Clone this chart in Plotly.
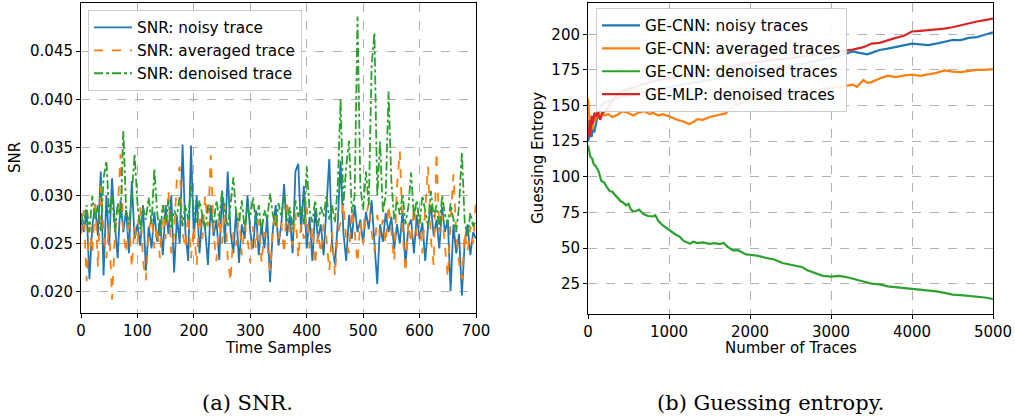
import plotly.graph_objects as go

W, H = 1015, 418

# ---------------- (a) SNR data ----------------
snr_x = list(range(0, 701, 5))

snr_noisy = [
    0.0275, 0.0262, 0.0285, 0.0213, 0.0268, 0.0290, 0.0258, 0.0325, 0.0217, 0.0300,
    0.0248, 0.0318, 0.0270, 0.0235, 0.0295, 0.0262, 0.0285, 0.0240, 0.0315, 0.0255,
    0.0270, 0.0248, 0.0290, 0.0222, 0.0268, 0.0245, 0.0283, 0.0252, 0.0275, 0.0238,
    0.0290, 0.0260, 0.0300, 0.0220, 0.0278, 0.0250, 0.0353, 0.0262, 0.0232, 0.0352,
    0.0255, 0.0300, 0.0240, 0.0280, 0.0265, 0.0228, 0.0290, 0.0258, 0.0275, 0.0233,
    0.0305, 0.0250, 0.0325, 0.0262, 0.0240, 0.0285, 0.0230, 0.0270, 0.0255, 0.0300,
    0.0262, 0.0245, 0.0285, 0.0238, 0.0270, 0.0245, 0.0278, 0.0210, 0.0265, 0.0290,
    0.0248, 0.0270, 0.0312, 0.0258, 0.0280, 0.0240, 0.0325, 0.0333, 0.0262, 0.0310,
    0.0245, 0.0278, 0.0232, 0.0285, 0.0255, 0.0270, 0.0238, 0.0295, 0.0338, 0.0250,
    0.0228, 0.0272, 0.0336, 0.0262, 0.0232, 0.0280, 0.0255, 0.0290, 0.0262, 0.0275,
    0.0250, 0.0283, 0.0265, 0.0295, 0.0248, 0.0208, 0.0270, 0.0252, 0.0282, 0.0262,
    0.0278, 0.0244, 0.0270, 0.0250, 0.0285, 0.0226, 0.0268, 0.0275, 0.0240, 0.0280,
    0.0255, 0.0272, 0.0232, 0.0268, 0.0290, 0.0258, 0.0275, 0.0245, 0.0288, 0.0262,
    0.0275, 0.0201, 0.0270, 0.0240, 0.0260, 0.0196, 0.0252, 0.0270, 0.0238, 0.0262,
    0.0255,
]

snr_averaged = [
    0.0260, 0.0285, 0.0211, 0.0268, 0.0240, 0.0295, 0.0225, 0.0310, 0.0262, 0.0235,
    0.0270, 0.0192, 0.0258, 0.0285, 0.0343, 0.0262, 0.0240, 0.0278, 0.0225, 0.0268,
    0.0250, 0.0288, 0.0232, 0.0212, 0.0262, 0.0278, 0.0245, 0.0268, 0.0235, 0.0290,
    0.0255, 0.0305, 0.0240, 0.0260, 0.0318, 0.0330, 0.0262, 0.0245, 0.0280, 0.0235,
    0.0268, 0.0228, 0.0280, 0.0255, 0.0300, 0.0268, 0.0342, 0.0260, 0.0232, 0.0278,
    0.0250, 0.0292, 0.0235, 0.0211, 0.0262, 0.0248, 0.0282, 0.0238, 0.0270, 0.0255,
    0.0230, 0.0268, 0.0245, 0.0275, 0.0230, 0.0262, 0.0250, 0.0222, 0.0268, 0.0282,
    0.0255, 0.0272, 0.0240, 0.0295, 0.0262, 0.0248, 0.0282, 0.0235, 0.0270, 0.0255,
    0.0288, 0.0245, 0.0268, 0.0228, 0.0262, 0.0240, 0.0270, 0.0255, 0.0222, 0.0262,
    0.0217, 0.0260, 0.0272, 0.0292, 0.0255, 0.0240, 0.0285, 0.0262, 0.0230, 0.0272,
    0.0250, 0.0278, 0.0292, 0.0262, 0.0242, 0.0280, 0.0258, 0.0275, 0.0250, 0.0290,
    0.0262, 0.0232, 0.0310, 0.0346, 0.0262, 0.0220, 0.0272, 0.0250, 0.0288, 0.0258,
    0.0275, 0.0240, 0.0285, 0.0330, 0.0255, 0.0228, 0.0345, 0.0262, 0.0280, 0.0248,
    0.0215, 0.0275, 0.0322, 0.0260, 0.0230, 0.0213, 0.0262, 0.0242, 0.0268, 0.0250,
    0.0296,
]

snr_denoised = [
    0.0282, 0.0270, 0.0290, 0.0262, 0.0300, 0.0275, 0.0290, 0.0262, 0.0318, 0.0336,
    0.0280, 0.0300, 0.0262, 0.0292, 0.0275, 0.0367, 0.0285, 0.0270, 0.0300, 0.0343,
    0.0292, 0.0265, 0.0288, 0.0275, 0.0298, 0.0270, 0.0328, 0.0282, 0.0258, 0.0290,
    0.0272, 0.0295, 0.0265, 0.0285, 0.0278, 0.0300, 0.0268, 0.0290, 0.0275, 0.0310,
    0.0285, 0.0272, 0.0295, 0.0278, 0.0265, 0.0290, 0.0282, 0.0270, 0.0295, 0.0275,
    0.0305, 0.0282, 0.0268, 0.0290, 0.0319, 0.0280, 0.0272, 0.0295, 0.0265, 0.0288,
    0.0278, 0.0298, 0.0270, 0.0290, 0.0262, 0.0285, 0.0275, 0.0302, 0.0280, 0.0268,
    0.0292, 0.0278, 0.0300, 0.0272, 0.0288, 0.0265, 0.0295, 0.0278, 0.0290, 0.0270,
    0.0330, 0.0285, 0.0272, 0.0295, 0.0268, 0.0288, 0.0278, 0.0300, 0.0275, 0.0290,
    0.0272, 0.0310, 0.0400, 0.0290, 0.0330, 0.0357, 0.0282, 0.0300, 0.0486, 0.0310,
    0.0285, 0.0325, 0.0290, 0.0435, 0.0469, 0.0300, 0.0356, 0.0282, 0.0300, 0.0408,
    0.0315, 0.0275, 0.0295, 0.0280, 0.0302, 0.0270, 0.0288, 0.0324, 0.0278, 0.0295,
    0.0270, 0.0300, 0.0282, 0.0268, 0.0305, 0.0278, 0.0290, 0.0265, 0.0300, 0.0280,
    0.0270, 0.0292, 0.0275, 0.0262, 0.0290, 0.0345, 0.0272, 0.0258, 0.0282, 0.0268,
    0.0275,
]

snr_names = ["SNR: noisy trace", "SNR: averaged trace", "SNR: denoised trace"]
snr_yticks = [0.020, 0.025, 0.030, 0.035, 0.040, 0.045]
snr_xticks = [0, 100, 200, 300, 400, 500, 600, 700]

# ---------------- (b) Guessing entropy data ----------------
ge_noisy_x = [0, 15, 30, 45, 60, 80, 100, 120, 150, 200, 300, 400, 600, 800, 1000,
              1300, 1600, 2000, 2400, 2800, 3100, 3270, 3350, 3450, 3500, 3600,
              3700, 3800, 3900, 4000, 4100, 4200, 4300, 4400, 4500, 4600, 4700,
              4800, 4900, 5000]
ge_noisy_y = [125, 129, 131, 128, 133, 132, 138, 143, 149, 152, 154, 156, 158, 161, 163,
              166, 169, 173, 177, 181, 185, 188, 187, 186, 187, 189,
              190, 191, 192, 193.5, 193, 192.5, 193.5, 195, 196, 196, 197.5,
              198, 199.5, 201.5]

ge_avg_x = [0, 10, 20, 30, 40, 55, 70, 90, 110, 140, 170, 200, 250, 300, 367, 420,
            500, 560, 620, 700, 760, 800, 870, 920, 1000, 1050, 1100, 1170, 1250,
            1300, 1350, 1420, 1500, 1580, 1650, 1700, 1750, 1800, 2000, 2400, 2800,
            3100, 3270, 3320, 3400, 3450, 3500, 3550, 3600, 3700, 3800, 3900, 4000,
            4100, 4200, 4300, 4400, 4500, 4600, 4700, 4800, 4900, 5000]
ge_avg_y = [155, 148, 135, 130, 138, 133, 142, 139, 144, 141, 145, 143, 144, 142, 143.6, 146,
            144.8, 143, 145, 146, 144, 145, 143, 144, 142.5, 141, 140, 139, 137,
            138.5, 140.5, 140, 142, 143, 144, 144.5, 147.6, 150, 154, 158, 161,
            163, 164.7, 163.2, 168, 166, 166.5, 168, 169, 171, 170, 171, 171.7,
            170.8, 171.7, 173, 174.7, 173.8, 173.5, 174.5, 175, 175, 175.6]

ge_den_x = [0, 15, 30, 50, 70, 100, 130, 165, 200, 230, 268, 300, 350, 400, 432, 470,
            500, 530, 556, 600, 630, 680, 740, 802, 830, 870, 920, 968, 1030, 1080,
            1132, 1180, 1214, 1260, 1300, 1350, 1420, 1500, 1560, 1626, 1675, 1720,
            1790, 1850, 1900, 1950, 2000, 2100, 2200, 2300, 2400, 2500, 2600, 2650,
            2700, 2800, 2900, 3000, 3100, 3200, 3300, 3400, 3500, 3600, 3700, 3800,
            3900, 4000, 4100, 4200, 4300, 4400, 4500, 4600, 4700, 4800, 4900, 5000]
ge_den_y = [122, 118, 114, 113, 109, 107, 104, 97, 96, 93, 90, 89.5, 86, 83, 82, 80,
            81, 77, 75.7, 76, 77, 74, 72.5, 72.2, 73, 69, 66, 64, 61, 59.5,
            58, 55, 54.2, 53, 54.5, 53.5, 54, 53, 53.5, 52.8, 53.5, 51,
            48.3, 48.5, 47, 45.5, 45.3, 44.5, 43, 42, 39.5, 38.3, 37, 36.5,
            34.5, 32.5, 30.5, 30, 30.5, 29.5, 27.8, 26.5, 25, 24.5, 23.1, 22.5,
            22, 21.3, 21, 20.5, 19.6, 18.5, 17.3, 17, 16.5, 16, 15.3, 14.2]

ge_mlp_x = [0, 10, 20, 30, 45, 60, 80, 100, 120, 150, 180, 210, 240, 270, 400, 800,
            1500, 2000, 2600, 3000, 3270, 3400, 3500, 3600, 3700, 3800, 3900, 4000,
            4100, 4200, 4300, 4400, 4500, 4600, 4700, 4800, 4900, 5000]
ge_mlp_y = [135, 128, 140, 130, 143, 137, 145, 142, 146, 140, 145, 146, 148, 151, 160, 167,
            175, 180, 184, 187, 189.3, 191, 193.5, 194, 196, 197.5, 199, 202,
            202.5, 203, 203.3, 204, 205, 206.5, 208, 209, 210, 211]

ge_names = ["GE-CNN: noisy traces", "GE-CNN: averaged traces",
            "GE-CNN: denoised traces", "GE-MLP: denoised traces"]
ge_yticks = [25, 50, 75, 100, 125, 150, 175, 200]
ge_xticks = [0, 1000, 2000, 3000, 4000, 5000]

BLUE, ORANGE, GREEN, RED = "#1f77b4", "#ff7f0e", "#2ca02c", "#d62728"
FONT = "DejaVu Sans"

fig = go.Figure()

fig.add_trace(go.Scatter(x=snr_x, y=snr_noisy, name=snr_names[0], mode="lines",
                         line=dict(color=BLUE, width=1.8), xaxis="x", yaxis="y",
                         legend="legend"))
fig.add_trace(go.Scatter(x=snr_x, y=snr_averaged, name=snr_names[1], mode="lines",
                         line=dict(color=ORANGE, width=1.8, dash="dash"), xaxis="x",
                         yaxis="y", legend="legend"))
fig.add_trace(go.Scatter(x=snr_x, y=snr_denoised, name=snr_names[2], mode="lines",
                         line=dict(color=GREEN, width=1.8, dash="dashdot"), xaxis="x",
                         yaxis="y", legend="legend"))

fig.add_trace(go.Scatter(x=ge_noisy_x, y=ge_noisy_y, name=ge_names[0], mode="lines",
                         line=dict(color=BLUE, width=2.2), xaxis="x2", yaxis="y2",
                         legend="legend2"))
fig.add_trace(go.Scatter(x=ge_avg_x, y=ge_avg_y, name=ge_names[1], mode="lines",
                         line=dict(color=ORANGE, width=2.2), xaxis="x2", yaxis="y2",
                         legend="legend2"))
fig.add_trace(go.Scatter(x=ge_den_x, y=ge_den_y, name=ge_names[2], mode="lines",
                         line=dict(color=GREEN, width=2.2), xaxis="x2", yaxis="y2",
                         legend="legend2"))
fig.add_trace(go.Scatter(x=ge_mlp_x, y=ge_mlp_y, name=ge_names[3], mode="lines",
                         line=dict(color=RED, width=2.2), xaxis="x2", yaxis="y2",
                         legend="legend2"))

def px(v):
    return v / W

def py(v):
    return 1 - v / H

axis_common = dict(
    showline=True, linecolor="black", linewidth=1, mirror=True,
    ticks="outside", ticklen=4, tickcolor="black", tickwidth=1,
    showgrid=True, gridcolor="#b0b0b0", gridwidth=1, griddash="dash",
    zeroline=False, automargin=False,
    tickfont=dict(family=FONT, size=15, color="black"),
)

legend_common = dict(
    xanchor="left", yanchor="top",
    bgcolor="rgba(255,255,255,0.9)", bordercolor="#cccccc", borderwidth=1,
    font=dict(family=FONT, size=15.3, color="black"), tracegroupgap=0,
    itemwidth=38,
)

fig.update_layout(
    width=W, height=H,
    margin=dict(l=0, r=0, t=0, b=0, autoexpand=False),
    paper_bgcolor="white", plot_bgcolor="white",
    showlegend=True,
    xaxis=dict(domain=[px(81), px(476)], range=[0, 700], tickvals=snr_xticks,
               anchor="y", **axis_common),
    yaxis=dict(domain=[py(313), py(3)], range=[0.0178, 0.0500], tickvals=snr_yticks,
               tickformat=".3f", anchor="x", **axis_common),
    xaxis2=dict(domain=[px(588), px(993)], range=[0, 5000], tickvals=ge_xticks,
                anchor="y2", **axis_common),
    yaxis2=dict(domain=[py(314), py(3)], range=[3.7, 222], tickvals=ge_yticks,
                anchor="x2", **axis_common),
    legend=dict(x=px(88), y=py(10), **legend_common),
    legend2=dict(x=px(596), y=py(8), **legend_common),
)

ann_font = dict(family=FONT, size=15, color="black")
cap_font = dict(family="DejaVu Serif", size=21, color="black")
annotations = [
    dict(text="SNR", x=px(15), y=py(158), textangle=-90, font=ann_font),
    dict(text="Guessing Entropy", x=px(538), y=py(158), textangle=-90, font=ann_font),
    dict(text="Time Samples", x=px(278.5), y=py(348), font=ann_font),
    dict(text="Number of Traces", x=px(790.5), y=py(348), font=ann_font),
    dict(text="(a) SNR.", x=px(247.5), y=py(403), font=cap_font),
    dict(text="(b) Guessing entropy.", x=px(770), y=py(403), font=cap_font),
]
for a in annotations:
    a.update(xref="paper", yref="paper", showarrow=False, xanchor="center",
             yanchor="middle")
fig.update_layout(annotations=annotations)

fig.write_html("out.html")
